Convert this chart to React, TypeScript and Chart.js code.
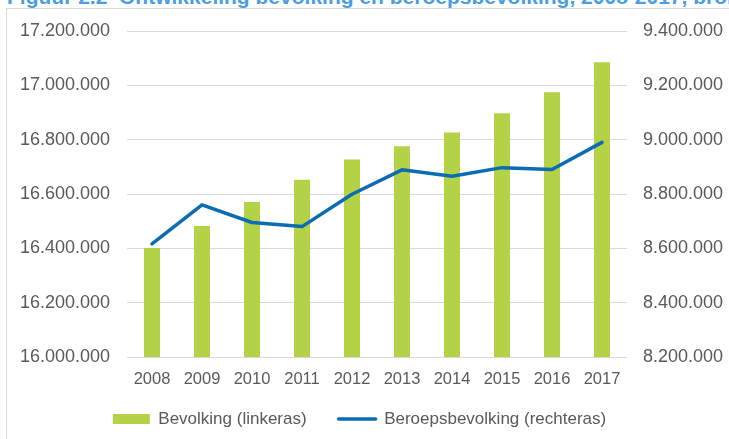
import React, { useEffect, useRef } from "react";
import { Chart, registerables } from "chart.js";

Chart.register(...registerables);

const years = ["2008", "2009", "2010", "2011", "2012", "2013", "2014", "2015", "2016", "2017"];
const bevolking = [16401000, 16482000, 16571000, 16652000, 16727000, 16776000, 16826000, 16897000, 16975000, 17085000];
const beroepsbevolking = [8616000, 8760000, 8695000, 8680000, 8799000, 8889000, 8865000, 8897000, 8890000, 8990000];

const leftAxis = { min: 16000000, max: 17200000, step: 200000 };
const rightAxis = { min: 8200000, max: 9400000, step: 200000 };

const titleText = "Figuur 2.2  Ontwikkeling bevolking en beroepsbevolking, 2008-2017, bron: CBS";
const barLabel = "Bevolking (linkeras)";
const lineLabel = "Beroepsbevolking (rechteras)";

const FONT = "'Liberation Sans', Arial, sans-serif";
const TEXT = "#595959";
const GREEN = "#b3d245";
const BLUE = "#0b6cb3";

function fmt(v: number): string {
  return String(Math.round(v)).replace(/\B(?=(\d{3})+(?!\d))/g, ".");
}

const adjustPlugin = {
  id: "adjustBoxes",
  afterLayout(chart: any) {
    const x = chart.scales.x;
    if (x) x.bottom = x.top + 40;
    const lg = chart.legend;
    if (lg) {
      lg.left -= 5;
      lg.right -= 5;
    }
  },
};

export default function App() {
  const ref = useRef<HTMLCanvasElement | null>(null);

  useEffect(() => {
    if (!ref.current) return;
    const chart = new Chart(ref.current, {
      type: "bar",
      data: {
        labels: years,
        datasets: [
          {
            type: "bar",
            label: barLabel,
            data: bevolking,
            backgroundColor: GREEN,
            borderWidth: 0,
            yAxisID: "y",
            barPercentage: 0.32,
            categoryPercentage: 1,
            order: 2,
          },
          {
            type: "line",
            label: lineLabel,
            data: beroepsbevolking,
            borderColor: BLUE,
            backgroundColor: BLUE,
            borderWidth: 3.5,
            borderCapStyle: "round",
            borderJoinStyle: "round",
            pointRadius: 0,
            tension: 0,
            yAxisID: "y1",
            order: 1,
          },
        ],
      } as any,
      options: {
        responsive: false,
        animation: false,
        devicePixelRatio: 1,
        layout: { padding: { left: 0, right: 0, top: 31, bottom: 1.5 } },
        plugins: {
          tooltip: { enabled: false },
          legend: {
            position: "bottom",
            labels: {
              font: { family: FONT, size: 17 },
              color: TEXT,
              padding: 32,
              usePointStyle: true,
              pointStyleWidth: 37,
              boxHeight: 10,
              sort: (a: any, b: any) => a.datasetIndex - b.datasetIndex,
              generateLabels: (c: any) => {
                const items = Chart.defaults.plugins.legend.labels.generateLabels(c);
                return items.map((it: any) => {
                  if (it.datasetIndex === 0) {
                    return { ...it, pointStyle: "rect", fillStyle: GREEN, strokeStyle: GREEN, lineWidth: 0 };
                  }
                  return { ...it, pointStyle: "line", strokeStyle: BLUE, fillStyle: BLUE, lineWidth: 3.5, lineCap: "round" };
                });
              },
            },
          },
        },
        scales: {
          x: {
            offset: true,
            grid: { display: false, drawTicks: false },
            border: { display: false },
            ticks: { font: { family: FONT, size: 16.5 }, color: TEXT, padding: 12.5, maxRotation: 0, autoSkip: false },
            afterFit: (s: any) => {
              s.height = 21.5;
            },
          },
          y: {
            position: "left",
            min: leftAxis.min,
            max: leftAxis.max,
            grid: { color: "#d9d9d9", lineWidth: 1, drawTicks: false },
            border: { display: false },
            ticks: {
              stepSize: leftAxis.step,
              font: { family: FONT, size: 18 },
              color: TEXT,
              padding: 17,
              callback: (v: any) => fmt(Number(v)),
            },
            afterFit: (s: any) => {
              s.width = 127;
            },
          },
          y1: {
            position: "right",
            min: rightAxis.min,
            max: rightAxis.max,
            grid: { display: false, drawTicks: false },
            border: { display: false },
            ticks: {
              stepSize: rightAxis.step,
              font: { family: FONT, size: 18 },
              color: TEXT,
              padding: 16,
              callback: (v: any) => fmt(Number(v)),
            },
            afterFit: (s: any) => {
              s.width = 102;
            },
          },
        },
      } as any,
      plugins: [adjustPlugin],
    });
    return () => chart.destroy();
  }, []);

  return (
    <div
      style={{
        position: "absolute",
        left: 0,
        top: 0,
        width: 729,
        height: 439,
        overflow: "hidden",
        background: "#ffffff",
      }}
    >
      <div
        style={{
          position: "absolute",
          left: 6,
          top: 8,
          width: 760,
          height: 460,
          border: "1px solid #d9d9d9",
          boxSizing: "border-box",
        }}
      />
      <div
        style={{
          position: "absolute",
          left: 7,
          top: -15.3,
          whiteSpace: "pre",
          fontFamily: FONT,
          fontWeight: "bold",
          fontSize: 21,
          lineHeight: "24px",
          color: "#4a9ede",
        }}
      >
        {titleText}
      </div>
      <canvas ref={ref} width={729} height={439} style={{ position: "absolute", left: 0, top: 0 }} />
    </div>
  );
}
